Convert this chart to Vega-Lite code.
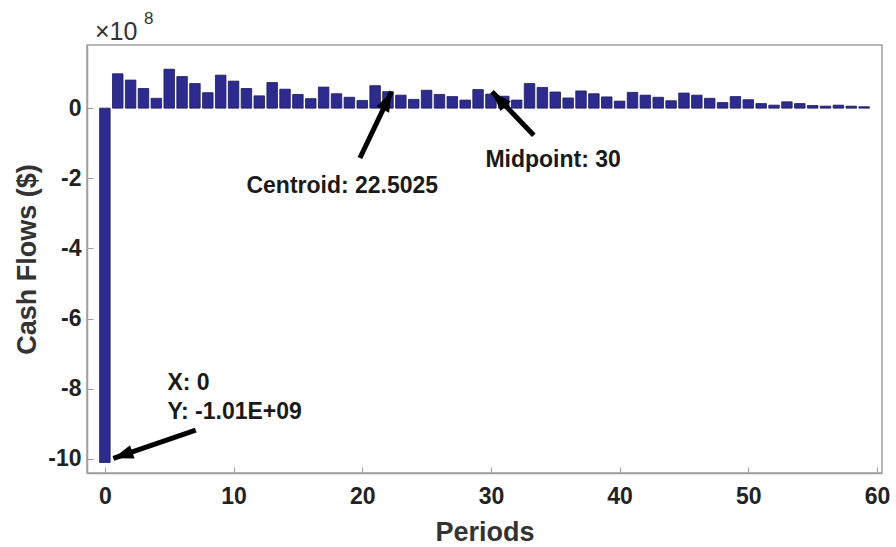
{
  "$schema": "https://vega.github.io/schema/vega-lite/v6.json",
  "width": 795,
  "height": 428,
  "autosize": {"type": "none"},
  "padding": {"left": 87, "top": 45, "right": 14, "bottom": 74},
  "background": "white",
  "config": {
    "font": "Liberation Sans",
    "view": {"stroke": "#a0a0a0", "strokeWidth": 1.5},
    "axis": {
      "domainColor": "#a0a0a0",
      "domainWidth": 1.5,
      "tickColor": "#a0a0a0",
      "tickSize": -6,
      "grid": false,
      "labelFont": "Liberation Sans",
      "labelFontWeight": "bold",
      "labelFontSize": 23,
      "labelColor": "#222222",
      "titleFont": "Liberation Sans",
      "titleFontWeight": "bold",
      "titleFontSize": 27,
      "titleColor": "#333333"
    }
  },
  "datasets": {
    "flows": [
      {"period": 0, "cash": -1010000000},
      {"period": 1, "cash": 98000000},
      {"period": 2, "cash": 80000000},
      {"period": 3, "cash": 56000000},
      {"period": 4, "cash": 28000000},
      {"period": 5, "cash": 111000000},
      {"period": 6, "cash": 90000000},
      {"period": 7, "cash": 70000000},
      {"period": 8, "cash": 44000000},
      {"period": 9, "cash": 94000000},
      {"period": 10, "cash": 77000000},
      {"period": 11, "cash": 56000000},
      {"period": 12, "cash": 35000000},
      {"period": 13, "cash": 73000000},
      {"period": 14, "cash": 54000000},
      {"period": 15, "cash": 39000000},
      {"period": 16, "cash": 27000000},
      {"period": 17, "cash": 60000000},
      {"period": 18, "cash": 41000000},
      {"period": 19, "cash": 31000000},
      {"period": 20, "cash": 22000000},
      {"period": 21, "cash": 64000000},
      {"period": 22, "cash": 47000000},
      {"period": 23, "cash": 37000000},
      {"period": 24, "cash": 25000000},
      {"period": 25, "cash": 51000000},
      {"period": 26, "cash": 39000000},
      {"period": 27, "cash": 33000000},
      {"period": 28, "cash": 23000000},
      {"period": 29, "cash": 53000000},
      {"period": 30, "cash": 40000000},
      {"period": 31, "cash": 34000000},
      {"period": 32, "cash": 23000000},
      {"period": 33, "cash": 70000000},
      {"period": 34, "cash": 59000000},
      {"period": 35, "cash": 46000000},
      {"period": 36, "cash": 29000000},
      {"period": 37, "cash": 49000000},
      {"period": 38, "cash": 41000000},
      {"period": 39, "cash": 32000000},
      {"period": 40, "cash": 20000000},
      {"period": 41, "cash": 45000000},
      {"period": 42, "cash": 37000000},
      {"period": 43, "cash": 31000000},
      {"period": 44, "cash": 21000000},
      {"period": 45, "cash": 43000000},
      {"period": 46, "cash": 37000000},
      {"period": 47, "cash": 28000000},
      {"period": 48, "cash": 16000000},
      {"period": 49, "cash": 33000000},
      {"period": 50, "cash": 24000000},
      {"period": 51, "cash": 13000000},
      {"period": 52, "cash": 8500000},
      {"period": 53, "cash": 18000000},
      {"period": 54, "cash": 13000000},
      {"period": 55, "cash": 7600000},
      {"period": 56, "cash": 5700000},
      {"period": 57, "cash": 8500000},
      {"period": 58, "cash": 5700000},
      {"period": 59, "cash": 4000000}
    ],
    "arrows": [
      {"name": "centroid", "x": 19.82, "y": -142000000, "xh": 22.28, "yh": 47000000},
      {"name": "midpoint", "x": 33.33, "y": -77000000, "xh": 30.08, "yh": 47000000},
      {"name": "xy", "x": 7.06, "y": -918000000, "xh": 0.66, "yh": -998000000}
    ],
    "notes": [
      {"label": "Centroid: 22.5025", "x": 11.0, "y": -222000000},
      {"label": "Midpoint: 30", "x": 29.57, "y": -148000000},
      {"label": "X: 0", "x": 4.86, "y": -784000000},
      {"label": "Y: -1.01E+09", "x": 4.86, "y": -867000000}
    ]
  },
  "layer": [
    {
      "data": {"name": "flows"},
      "mark": {"type": "bar", "width": 10.5, "fill": "#2e2b8e", "stroke": "#1b1960", "strokeWidth": 0.8},
      "encoding": {
        "x": {
          "field": "period", "type": "quantitative",
          "scale": {"domain": [-1, 60], "nice": false, "zero": false},
          "axis": {"title": "Periods", "values": [0, 10, 20, 30, 40, 50, 60], "labelPadding": 18, "titlePadding": 11}
        },
        "y": {
          "field": "cash", "type": "quantitative",
          "scale": {"domain": [-1040000000, 180000000], "nice": false, "zero": false},
          "axis": {
            "title": "Cash Flows ($)",
            "values": [-1000000000, -800000000, -600000000, -400000000, -200000000, 0],
            "labelExpr": "'' + round(datum.value / 1e8)",
            "labelPadding": 12,
            "titlePadding": 6
          }
        }
      }
    },
    {
      "data": {"name": "arrows"},
      "mark": {"type": "rule", "color": "black", "strokeWidth": 5, "strokeCap": "butt"},
      "encoding": {
        "x": {"field": "x", "type": "quantitative"},
        "y": {"field": "y", "type": "quantitative"},
        "x2": {"field": "xh"},
        "y2": {"field": "yh"}
      }
    },
    {
      "data": {"name": "arrows"},
      "transform": [{"filter": "datum.name === 'centroid'"}],
      "mark": {"type": "point", "shape": "M0,0L-0.7,2L0.7,2Z", "filled": true, "color": "black", "opacity": 1, "size": 400, "angle": 26},
      "encoding": {
        "x": {"field": "xh", "type": "quantitative"},
        "y": {"field": "yh", "type": "quantitative"}
      }
    },
    {
      "data": {"name": "arrows"},
      "transform": [{"filter": "datum.name === 'midpoint'"}],
      "mark": {"type": "point", "shape": "M0,0L-0.7,2L0.7,2Z", "filled": true, "color": "black", "opacity": 1, "size": 400, "angle": -43},
      "encoding": {
        "x": {"field": "xh", "type": "quantitative"},
        "y": {"field": "yh", "type": "quantitative"}
      }
    },
    {
      "data": {"name": "arrows"},
      "transform": [{"filter": "datum.name === 'xy'"}],
      "mark": {"type": "point", "shape": "M0,0L-0.7,2L0.7,2Z", "filled": true, "color": "black", "opacity": 1, "size": 400, "angle": -108.7},
      "encoding": {
        "x": {"field": "xh", "type": "quantitative"},
        "y": {"field": "yh", "type": "quantitative"}
      }
    },
    {
      "data": {"name": "notes"},
      "mark": {"type": "text", "align": "left", "baseline": "middle", "font": "Liberation Sans", "fontWeight": "bold", "fontSize": 23, "color": "#1a1a1a"},
      "encoding": {
        "x": {"field": "x", "type": "quantitative"},
        "y": {"field": "y", "type": "quantitative"},
        "text": {"field": "label"}
      }
    },
    {
      "data": {"values": [{}]},
      "mark": {"type": "text", "text": "×10", "align": "left", "baseline": "alphabetic", "font": "Liberation Sans", "fontSize": 25, "color": "#333333", "dx": 3, "dy": -5},
      "encoding": {
        "x": {"datum": -1, "type": "quantitative"},
        "y": {"datum": 180000000, "type": "quantitative"}
      }
    },
    {
      "data": {"values": [{}]},
      "mark": {"type": "text", "text": "8", "align": "left", "baseline": "alphabetic", "font": "Liberation Sans", "fontSize": 17, "color": "#333333", "dx": 52, "dy": -21},
      "encoding": {
        "x": {"datum": -1, "type": "quantitative"},
        "y": {"datum": 180000000, "type": "quantitative"}
      }
    }
  ]
}
